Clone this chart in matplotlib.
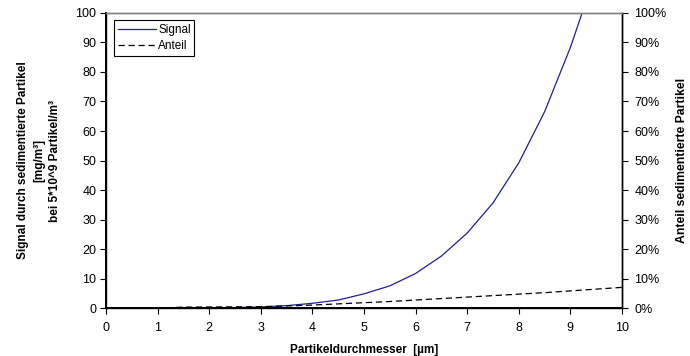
import numpy as np
import matplotlib
matplotlib.use("Agg")
from matplotlib import pyplot as plt
from matplotlib.ticker import FuncFormatter

plt.rcParams['font.family'] = ['Liberation Sans', 'DejaVu Sans']

# particle diameter in um
durchmesser = [0, 0.5, 1, 1.5, 2, 2.5, 3, 3.5, 4, 4.5, 5, 5.5, 6, 6.5, 7, 7.5, 8, 8.5, 9, 9.5, 10]
# signal in mg/m3
signal = [0, 0, 0, 0, 0.05, 0.15, 0.35, 0.8, 1.6, 2.7, 4.8, 7.5, 11.7, 17.6, 25.4, 35.6,
          49.2, 66.5, 88.3, 114, 146]
# share of sedimented particles in %
anteil = [0, 0, 0, 0.3, 0.35, 0.4, 0.45, 0.7, 1.0, 1.4, 1.8, 2.2, 2.7, 3.2, 3.7, 4.2,
          4.7, 5.2, 5.8, 6.4, 7.0]

fig = plt.figure(figsize=(6.9, 3.56), dpi=100)
ax = fig.add_axes([0.1536, 0.1348, 0.7478, 0.8287])
ax2 = ax.twinx()

l1, = ax.plot(durchmesser, signal, color='#1f1f9c', lw=0.9, label='Signal')
l2, = ax2.plot(durchmesser, anteil, color='black', lw=0.9, ls=(0, (5, 3)), label='Anteil')

ax.set_xlim(0, 10)
ax.set_ylim(0, 100)
ax2.set_ylim(0, 100)
ax.set_xticks(range(0, 11))
ax.set_yticks(range(0, 101, 10))
ax2.set_yticks(range(0, 101, 10))
ax2.yaxis.set_major_formatter(FuncFormatter(lambda v, p: '{:d}%'.format(int(v))))

for a in (ax, ax2):
    a.tick_params(direction='out', length=4, width=0.8, labelsize=9, colors='black')
    a.spines['top'].set_color('#808080')
    a.spines['top'].set_linewidth(1.0)
    for s in ('left', 'bottom', 'right'):
        a.spines[s].set_linewidth(1.0)
ax.spines['left'].set_linewidth(1.4)
ax.spines['bottom'].set_linewidth(1.4)
ax.tick_params(axis='x', pad=6)
ax.tick_params(axis='y', pad=3)
ax2.tick_params(axis='y', pad=5)

ax.set_xlabel('Partikeldurchmesser  [µm]', fontsize=8.5, fontweight='bold', labelpad=7)
ax.set_ylabel('Signal durch sedimentierte Partikel\n[mg/m³]\nbei 5*10^9 Partikel/m³',
              fontsize=8.5, fontweight='bold', labelpad=10, linespacing=1.45)
ax2.set_ylabel('Anteil sedimentierte Partikel', fontsize=8.8, fontweight='bold',
               rotation=90, labelpad=7)

leg = ax.legend([l1, l2], ['Signal', 'Anteil'], loc='upper left', fontsize=8.5,
                frameon=True, fancybox=False, edgecolor='black', framealpha=1,
                borderpad=0.3, handlelength=3.2, handletextpad=0.2,
                labelspacing=0.35, bbox_to_anchor=(0.005, 0.995))
leg.get_frame().set_linewidth(0.8)

fig.savefig('out.png', dpi=100)
